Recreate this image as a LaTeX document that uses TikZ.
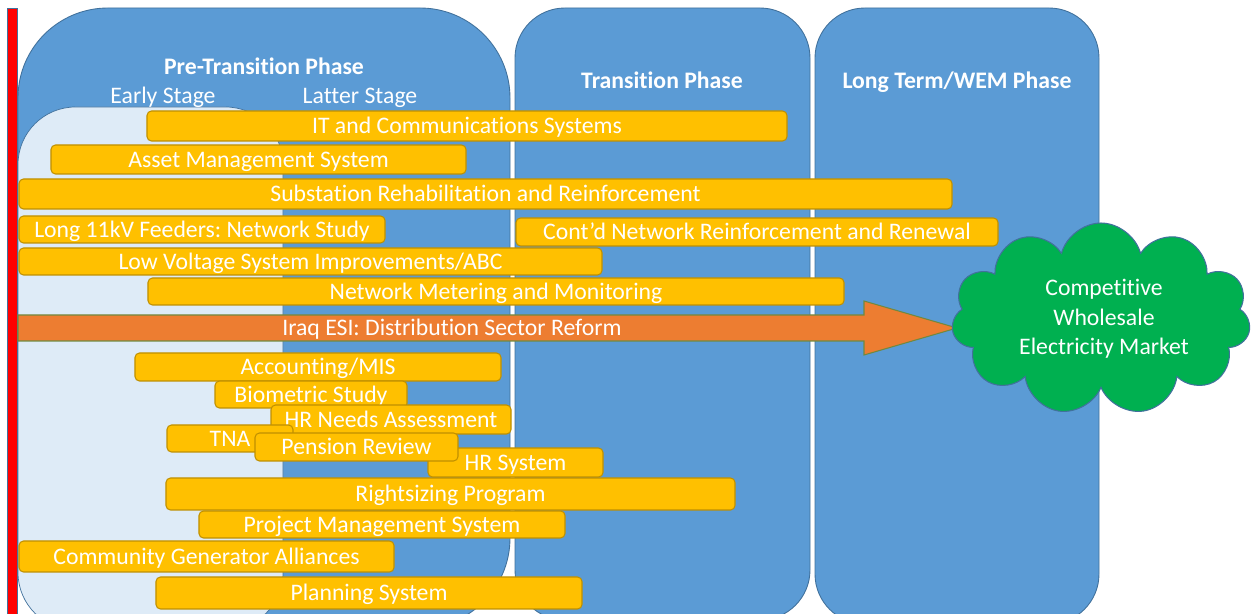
\documentclass[tikz,border=0pt]{standalone}
\usepackage{fontspec}
\setmainfont{Carlito}[Ligatures=NoCommon]
\usetikzlibrary{shapes.symbols}
\frenchspacing
\definecolor{panelblue}{HTML}{5B9BD5}
\definecolor{paneledge}{HTML}{41719C}
\definecolor{lightpanel}{HTML}{DEEBF7}
\definecolor{bargold}{HTML}{FFC000}
\definecolor{baredge}{HTML}{BF9000}
\definecolor{arroworange}{HTML}{ED7D31}
\definecolor{arrowedge}{HTML}{71893F}
\definecolor{cloudgreen}{HTML}{00B050}
\tikzset{
  panel/.style={fill=panelblue, draw=paneledge, line width=0.5pt},
  txt/.style={text=white, inner sep=0pt, font=\frenchspacing\fontsize{13.5}{16}\selectfont, text height=8.7pt, text depth=0pt},
  ybar/.style={txt, fill=bargold, draw=baredge, line width=0.6pt, rounded corners=0.09cm},
  head/.style={txt, font=\frenchspacing\bfseries\fontsize{13.5}{16}\selectfont},
}
\newcommand\gbar[6]{%
  \pgfmathsetmacro\bw{(#4-#2)*0.02}%
  \pgfmathsetmacro\bh{(#5-#3)*0.02}%
  \node[ybar, minimum width=\bw cm, minimum height=\bh cm] (#1) at ({(#2+#4)/2},{(#3+#5)/2}) {#6};}
\begin{document}
\begin{tikzpicture}[x=0.02cm, y=-0.02cm]
\useasboundingbox (0,0) rectangle (1252,614);
\fill[white] (0,0) rectangle (1252,614);
\clip (0,0) rectangle (1252,614);
% phase panels
\path[panel, rounded corners=1.8cm] (18,8) rectangle (510,628);
\path[panel, rounded corners=1.0cm] (515,8) rectangle (810,620);
\path[panel, rounded corners=1.0cm] (815,8) rectangle (1099,624);
\path[fill=lightpanel, draw=paneledge, line width=0.4pt, rounded corners=1.15cm] (18,107) rectangle (283,630);
% red time line
\path[fill=red, draw=paneledge, line width=0.3pt] (7,8) rectangle (17,618);
% headers
\node[head] (pre) at (264,67) {Pre-Transition Phase};
\node[txt] (early) at (163,96) {Early Stage};
\node[txt] (latter) at (360,96) {Latter Stage};
\node[head] (trans) at (662,81) {Transition Phase};
\node[head] (longt) at (957,81) {Long Term/WEM Phase};
% bars
\gbar{itc}{147}{111}{787}{141}{IT and Communications Systems}
\gbar{ams}{51}{145}{466}{174}{Asset Management System}
\gbar{sub}{19}{179}{952}{209}{Substation Rehabilitation and Reinforcement}
\gbar{feed}{19}{216}{385}{243}{Long 11kV Feeders: Network Study}
\gbar{contd}{516}{218}{998}{246}{Cont’d Network Reinforcement and Renewal}
\gbar{lvs}{19}{248}{602}{275}{Low Voltage System Improvements/ABC}
\gbar{nmm}{148}{278}{844}{305}{Network Metering and Monitoring}
% reform arrow
\draw[fill=arroworange, draw=arrowedge, line width=0.6pt, line join=miter]
  (18,315) -- (864,315) -- (864,301) -- (957,328) -- (864,355) -- (864,341) -- (18,341) -- cycle;
\node[txt] (esi) at (452,328) {Iraq ESI: Distribution Sector Reform};
\gbar{acc}{135}{353}{501}{381}{Accounting/MIS}
\gbar{bio}{215}{381}{407}{408}{Biometric Study}
\gbar{hrn}{271}{405}{511}{434}{HR Needs Assessment}
\gbar{tna}{167}{425}{293}{452}{TNA}
\gbar{hrs}{428}{448}{603}{477}{HR System}
\gbar{pen}{255}{433}{458}{461}{Pension Review}
\gbar{right}{166}{478}{735}{510}{Rightsizing Program}
\gbar{pms}{199}{511}{565}{538}{Project Management System}
\gbar{cga}{19}{541}{394}{572}{Community Generator Alliances}
\gbar{plan}{156}{577}{582}{609}{Planning System}
% target market cloud
\node[cloud, cloud puffs=11, cloud ignores aspect, minimum width=5.98cm, minimum height=3.84cm,
  fill=cloudgreen, draw=paneledge, line width=0.6pt, inner sep=0pt] (wem) at (1101,319) {};
\node[text=white, align=center, inner sep=0pt, font=\frenchspacing\fontsize{13.5}{16.8}\selectfont] (wemtext) at (1104,319)
  {Competitive\\Wholesale\\Electricity Market};
\end{tikzpicture}
\end{document}
